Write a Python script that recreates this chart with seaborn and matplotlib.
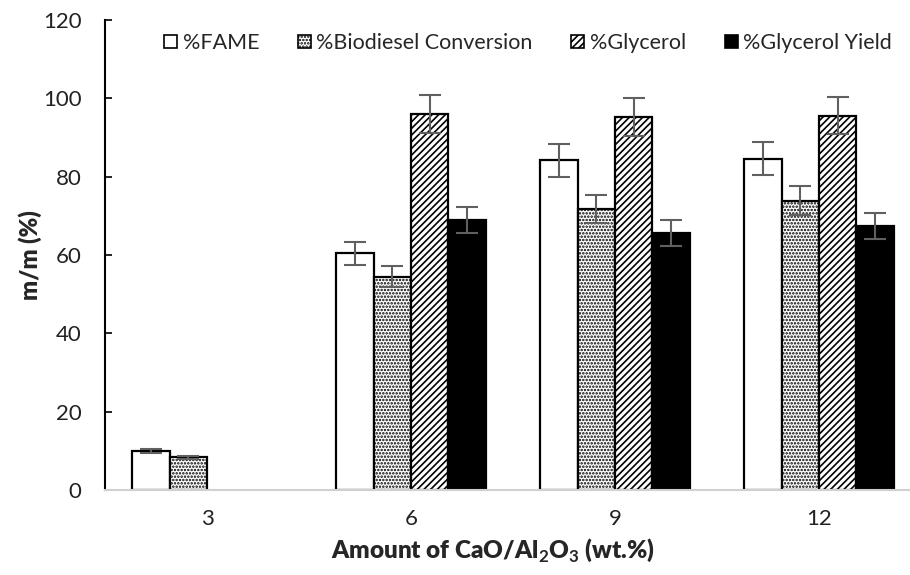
import matplotlib
matplotlib.use("Agg")
import matplotlib.pyplot as plt
from matplotlib import font_manager
from matplotlib.patches import Patch
from matplotlib.container import BarContainer
import numpy as np
import pandas as pd
import seaborn as sns

# Catalyst loadings and measured responses (m/m %)
loadings = ["3", "6", "9", "12"]
series = ["%FAME", "%Biodiesel Conversion", "%Glycerol", "%Glycerol Yield"]
fame = [9.9, 60.4, 84.2, 84.6]
biodiesel = [8.3, 54.5, 71.7, 73.9]
glycerol = [0.0, 96.0, 95.3, 95.6]
glycerol_yield = [0.0, 68.9, 65.7, 67.4]
fame_err = [0.5, 3.0, 4.2, 4.2]
biodiesel_err = [0.4, 2.7, 3.6, 3.7]
glycerol_err = [0.0, 4.8, 4.8, 4.8]
glycerol_yield_err = [0.0, 3.4, 3.3, 3.4]

values = [fame, biodiesel, glycerol, glycerol_yield]
errors = [fame_err, biodiesel_err, glycerol_err, glycerol_yield_err]

rows = []
for name, vals, errs in zip(series, values, errors):
    for cat, v, e in zip(loadings, vals, errs):
        rows.append({"loading": cat, "series": name, "value": v, "err": e})
df = pd.DataFrame(rows)

sns.set_theme(style="white")
available = {f.name for f in font_manager.fontManager.ttflist}
base_font = next((f for f in ["Lato", "Open Sans", "DejaVu Sans"] if f in available))
plt.rcParams["font.family"] = [base_font, "DejaVu Sans"]
plt.rcParams["mathtext.fontset"] = "custom"
plt.rcParams["mathtext.rm"] = base_font
plt.rcParams["mathtext.bf"] = f"{base_font}:bold"
plt.rcParams["hatch.linewidth"] = 1.2
plt.rcParams["hatch.color"] = "black"

fig = plt.figure(figsize=(9.1, 5.75), dpi=100)
ax = fig.add_axes([105 / 910, 1 - 490 / 575, 816 / 910, 470 / 575])

faces = ["white", "white", "white", "black"]
hatches = ["", ".....", "/////", ""]

sns.barplot(data=df, x="loading", y="value", hue="series", order=loadings,
            hue_order=series, palette=faces, width=0.735, errorbar=None,
            saturation=1, legend=False, ax=ax, zorder=2)

bar_groups = [c for c in ax.containers if isinstance(c, BarContainer)]
for k, container in enumerate(bar_groups):
    for bar, v, e in zip(container.patches, values[k], errors[k]):
        bar.set_hatch(hatches[k])
        bar.set_edgecolor("black")
        bar.set_linewidth(1.6 if v > 0 else 0)
        if v > 0:
            xc = bar.get_x() + bar.get_width() / 2
            ax.errorbar(xc, v, yerr=e, fmt="none", ecolor="#606060",
                        elinewidth=1.5, capsize=8, capthick=1.5, zorder=3)

ax.set_xlim(-0.5, 3.5)
ax.set_ylim(0, 120)
ax.set_yticks(range(0, 121, 20))
ax.tick_params(axis="y", direction="in", length=5, width=1.2, color="black",
               labelsize=16, pad=17, left=True)
ax.tick_params(axis="x", length=0, labelsize=16, pad=14)
for lab in ax.get_yticklabels() + ax.get_xticklabels():
    lab.set_color("#222222")

for s in ["top", "right"]:
    ax.spines[s].set_visible(False)
ax.spines["left"].set_color("black")
ax.spines["left"].set_linewidth(1.5)
ax.spines["bottom"].set_color("#d0d0d0")
ax.spines["bottom"].set_linewidth(1.5)

ax.set_xlabel(r"Amount of CaO/Al$_\mathbf{2}$O$_\mathbf{3}$ (wt.%)",
              fontsize=17.5, fontweight="heavy")
ax.set_ylabel("m/m (%)", fontsize=17, fontweight="heavy")
ax.xaxis.set_label_coords((493 - 105) / 816, (490 - 537) / 470)
ax.yaxis.set_label_coords((42 - 105) / 816, 0.5)

handles = [Patch(facecolor=f, edgecolor="black", hatch=h, linewidth=1.2)
           for f, h in zip(faces, hatches)]
fig.legend(handles, series, loc="center", bbox_to_anchor=(528 / 910, 1 - 43 / 575),
           ncol=4, frameon=False, fontsize=15.5, handlelength=0.6, handleheight=0.6,
           handletextpad=0.25, columnspacing=1.8)

fig.savefig("out.png", dpi=100)
